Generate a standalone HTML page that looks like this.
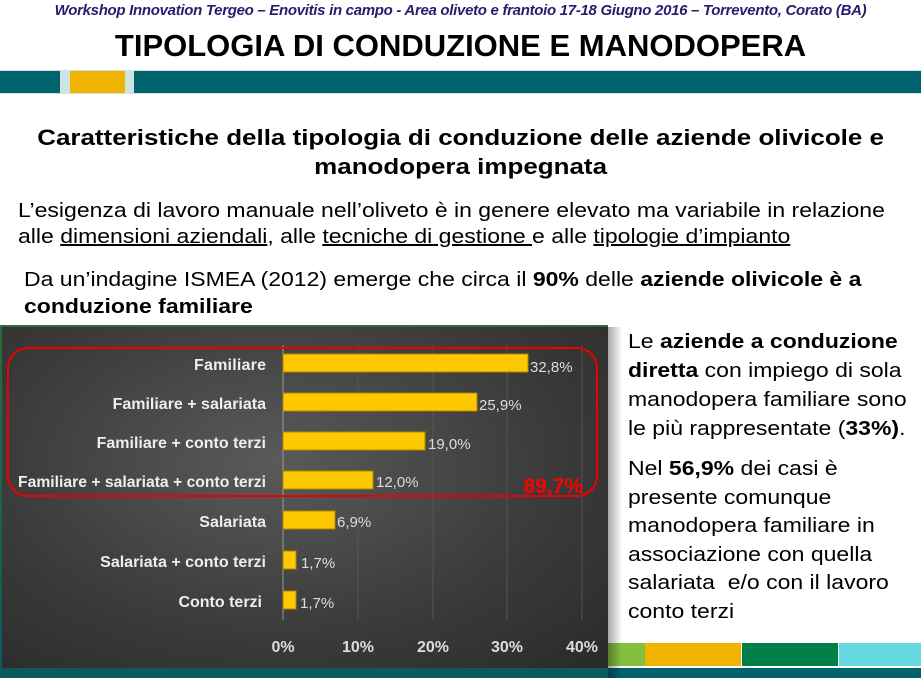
<!DOCTYPE html>
<html><head><meta charset="utf-8"><style>
body{margin:0;width:921px;height:678px;overflow:hidden;background:#fff;font-family:"Liberation Sans",sans-serif;position:relative}
.a{position:absolute;white-space:nowrap}
.s{transform-origin:0 0;transform:scaleX(1.15)}
u{text-decoration:underline}
</style></head><body>
<div class="a" style="left:0;width:921px;top:2px;text-align:center;font-size:15px;font-style:italic;font-weight:bold;color:#2b1a6e;letter-spacing:-0.3px">Workshop Innovation Tergeo – Enovitis in campo - Area oliveto e frantoio 17-18 Giugno 2016 – Torrevento, Corato (BA)</div>
<div class="a" style="left:0;width:921px;top:28px;text-align:center;font-size:31px;font-weight:bold;color:#000">TIPOLOGIA DI CONDUZIONE E MANODOPERA</div>
<div class="a" style="left:0;top:70px;width:921px;height:24px;background:#cfe3e4"></div>
<div class="a" style="left:0;top:71px;width:60px;height:22px;background:#00626a"></div>
<div class="a" style="left:70px;top:71px;width:55px;height:22px;background:#f0b400"></div>
<div class="a" style="left:134px;top:71px;width:787px;height:22px;background:#00626a"></div>
<div class="a" style="left:0;width:921px;top:123px;text-align:center;font-size:22px;font-weight:bold;line-height:29px;transform:scaleX(1.18);transform-origin:460px 0">Caratteristiche della tipologia di conduzione delle aziende olivicole e<br>manodopera impegnata</div>
<div class="a s" style="left:18px;top:198px;font-size:20px;line-height:26px">L’esigenza di lavoro manuale nell’oliveto è in genere elevato ma variabile in relazione<br>alle <u>dimensioni aziendali</u>, alle <u>tecniche di gestione </u>e alle <u>tipologie d’impianto</u></div>
<div class="a s" style="left:24px;top:267px;font-size:20px;line-height:27px">Da un’indagine ISMEA (2012) emerge che circa il <b>90%</b> delle <b>aziende olivicole è a<br>conduzione familiare</b></div>
<div class="a" style="left:0;top:325px;width:608px;height:353px;background:linear-gradient(#2e6a3a,#0b5a5e)"></div>
<div class="a" style="left:2px;top:327px;width:606px;height:341px;background:radial-gradient(ellipse at 45% 40%,#5a5a5a,#3a3a3a 60%,#2a2a2a)"></div>
<svg class="a" style="left:0;top:0" width="921" height="678">
<g stroke="#555" stroke-width="1">
<line x1="358" y1="345" x2="358" y2="620"/><line x1="433" y1="345" x2="433" y2="620"/><line x1="507" y1="345" x2="507" y2="620"/><line x1="582" y1="345" x2="582" y2="620"/></g>
<line x1="283" y1="345" x2="283" y2="620" stroke="#999"/>
<g fill="#fdc800" stroke="#b08800" stroke-width="1">
<rect x="283" y="354" width="245" height="18"/><rect x="283" y="393" width="194" height="18"/><rect x="283" y="432" width="142" height="18"/><rect x="283" y="471" width="90" height="18"/><rect x="283" y="511" width="52" height="18"/><rect x="283" y="551" width="13" height="18"/><rect x="283" y="591" width="13" height="18"/></g>
<g font-family="Liberation Sans,sans-serif" font-size="16" fill="#eee" text-anchor="end" font-weight="bold">
<text x="266" y="370" textLength="72">Familiare</text><text x="266" y="409">Familiare + salariata</text><text x="266" y="448">Familiare + conto terzi</text><text x="266" y="487" textLength="248" lengthAdjust="spacingAndGlyphs">Familiare + salariata + conto terzi</text><text x="266" y="527">Salariata</text><text x="266" y="567">Salariata + conto terzi</text><text x="262" y="607">Conto terzi</text></g>
<g font-family="Liberation Sans,sans-serif" font-size="15" fill="#ddd">
<text x="530" y="372">32,8%</text><text x="479" y="410">25,9%</text><text x="428" y="449">19,0%</text><text x="376" y="487">12,0%</text><text x="337" y="527">6,9%</text><text x="301" y="568">1,7%</text><text x="300" y="608">1,7%</text></g>
<g font-family="Liberation Sans,sans-serif" font-size="16" fill="#ddd" font-weight="bold" text-anchor="middle">
<text x="283" y="652">0%</text><text x="358" y="652">10%</text><text x="433" y="652">20%</text><text x="507" y="652">30%</text><text x="582" y="652">40%</text></g>
<rect x="8" y="348" width="589" height="148" rx="20" fill="none" stroke="#e00" stroke-width="2"/>
<text x="583" y="493" text-anchor="end" font-family="Liberation Sans,sans-serif" font-size="21" font-weight="bold" fill="#f00">89,7%</text>
</svg>
<div class="a s" style="left:628px;top:328px;font-size:20px;line-height:29px">Le <b>aziende a conduzione<br>diretta</b> con impiego di sola<br>manodopera familiare sono<br>le più rappresentate (<b>33%)</b>.</div>
<div class="a s" style="left:628px;top:455px;font-size:20px;line-height:28.5px">Nel <b>56,9%</b> dei casi è<br>presente comunque<br>manodopera familiare in<br>associazione con quella<br>salariata&nbsp; e/o con il lavoro<br>conto terzi</div>
<div class="a" style="left:608px;top:643px;width:37px;height:23px;background:#86bf40"></div>
<div class="a" style="left:645px;top:643px;width:96px;height:23px;background:#f0b400"></div>
<div class="a" style="left:742px;top:643px;width:96px;height:23px;background:#008048"></div>
<div class="a" style="left:839px;top:643px;width:82px;height:23px;background:#66d8e0"></div>
<div class="a" style="left:608px;top:668px;width:313px;height:10px;background:#00626a"></div>
<div class="a" style="left:608px;top:327px;width:14px;height:351px;background:linear-gradient(90deg,rgba(0,0,0,0.35),rgba(0,0,0,0))"></div>
</body></html>
